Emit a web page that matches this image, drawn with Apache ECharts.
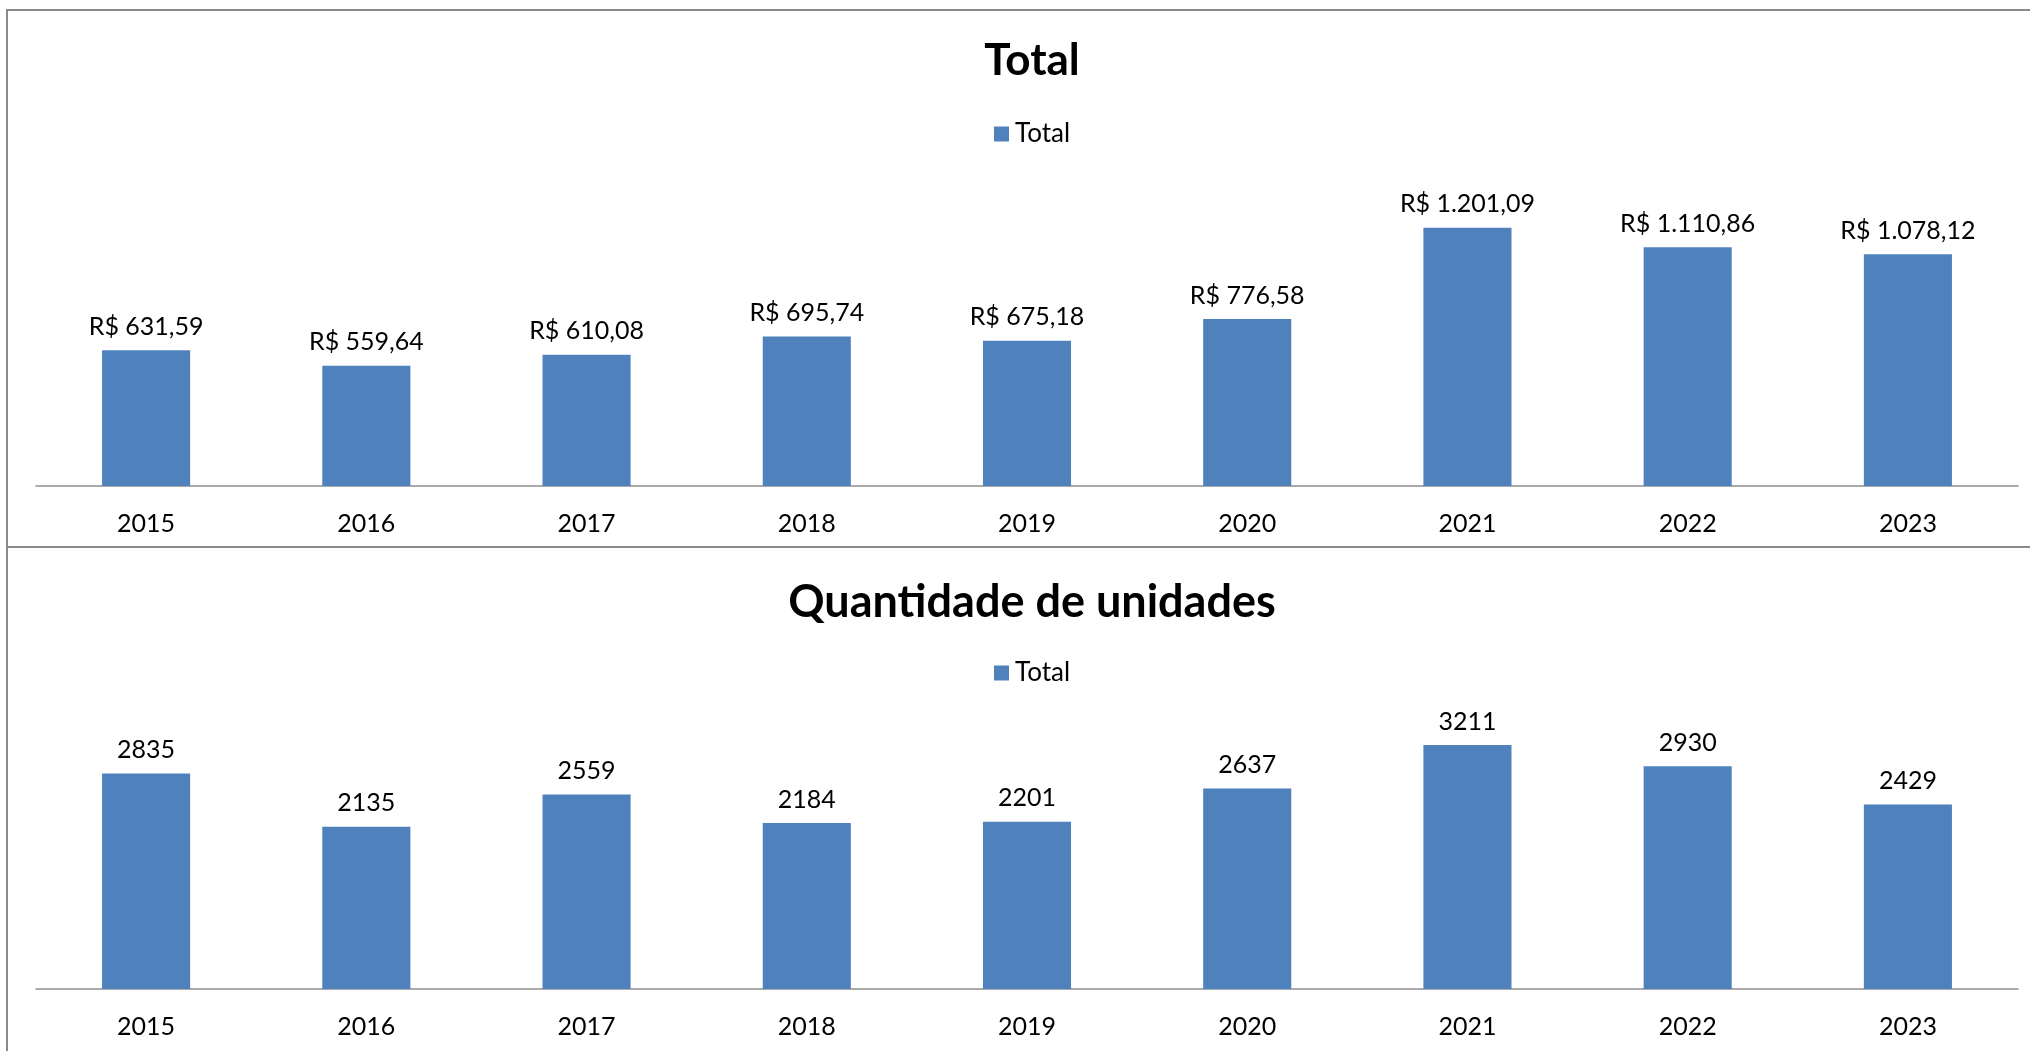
<!DOCTYPE html>
<html>
<head>
<meta charset="utf-8">
<script src="https://cdn.jsdelivr.net/npm/echarts@6/dist/echarts.min.js"></script>
<style>
  html, body { margin: 0; padding: 0; background: #fff; }
  #chart { width: 2030px; height: 1051px; }
</style>
</head>
<body>
<div id="chart"></div>
<script>
const years = ['2015', '2016', '2017', '2018', '2019', '2020', '2021', '2022', '2023']
const totalValues = [631.59, 559.64, 610.08, 695.74, 675.18, 776.58, 1201.09, 1110.86, 1078.12]
const unitValues = [2835, 2135, 2559, 2184, 2201, 2637, 3211, 2930, 2429]

const topTitle = 'Total'
const bottomTitle = 'Quantidade de unidades'
const seriesName = 'Total'

const FONT = 'Lato, "Open Sans", sans-serif'
const BAR = '#4f81bd'
const FRAME = '#8a8a8a'

// R$ with Brazilian separators: 1.201,09
function fmtBRL(v) {
  const [int, dec] = v.toFixed(2).split('.')
  return 'R$ ' + int.replace(/\B(?=(\d{3})+(?!\d))/g, '.') + ',' + dec
}

const chart = echarts.init(document.getElementById('chart'))

const xAxisBase = {
  type: 'category',
  data: years,
  axisTick: { show: false },
  axisLine: { lineStyle: { color: '#8e8e8e', width: 1.5 } },
  axisLabel: { color: '#000', fontFamily: FONT, fontSize: 25, margin: 25 },
}

const yAxisBase = {
  type: 'value',
  min: 0,
  show: false,
  splitLine: { show: false },
}

const barBase = {
  type: 'bar',
  name: seriesName,
  barWidth: '40%',
  itemStyle: { color: BAR },
  label: {
    show: true,
    position: 'top',
    distance: 11,
    color: '#000',
    fontFamily: FONT,
    fontSize: 25,
  },
}

const legendBase = {
  data: [seriesName], left: 994, padding: 0,
  icon: 'rect', itemWidth: 15, itemHeight: 15, itemGap: 6,
  textStyle: { fontFamily: FONT, fontSize: 26, color: '#000', padding: [0, 0, 0, 1] },
}

chart.setOption({
  animation: false,
  title: [
    {
      text: topTitle,
      left: 1027, top: 34, textAlign: 'center',
      textStyle: { fontFamily: FONT, fontWeight: 'bold', fontSize: 44, color: '#000' },
    },
    {
      text: bottomTitle,
      left: 1027, top: 575, textAlign: 'center',
      textStyle: { fontFamily: FONT, fontWeight: 'bold', fontSize: 45, color: '#000' },
    },
  ],
  legend: [
    { ...legendBase, top: 121 },
    { ...legendBase, top: 660 },
  ],
  grid: [
    { left: 36, right: 12, top: 185, bottom: 1051 - 486 },
    { left: 36, right: 12, top: 685, bottom: 1051 - 989 },
  ],
  xAxis: [
    { ...xAxisBase, gridIndex: 0 },
    { ...xAxisBase, gridIndex: 1 },
  ],
  yAxis: [
    { ...yAxisBase, gridIndex: 0, max: 1400 },
    { ...yAxisBase, gridIndex: 1, max: 4000 },
  ],
  series: [
    {
      ...barBase, xAxisIndex: 0, yAxisIndex: 0, data: totalValues,
      label: { ...barBase.label, formatter: p => fmtBRL(p.value) },
    },
    {
      ...barBase, xAxisIndex: 1, yAxisIndex: 1, data: unitValues,
      label: { ...barBase.label, formatter: p => String(p.value) },
    },
  ],
  // outer frame + divider between the two panels
  graphic: [
    { type: 'line', shape: { x1: 6, y1: 10, x2: 2030, y2: 10 }, style: { stroke: FRAME, lineWidth: 2 } },
    { type: 'line', shape: { x1: 7, y1: 9, x2: 7, y2: 1051 }, style: { stroke: FRAME, lineWidth: 2 } },
    { type: 'line', shape: { x1: 6, y1: 547, x2: 2030, y2: 547 }, style: { stroke: FRAME, lineWidth: 2 } },
  ],
})
</script>
</body>
</html>
